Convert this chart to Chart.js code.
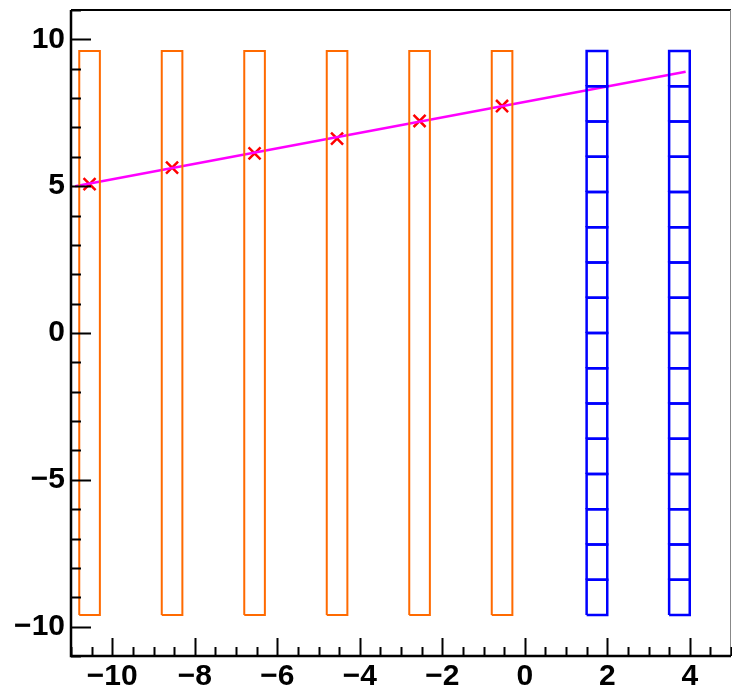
<!DOCTYPE html>
<html>
<head>
<meta charset="utf-8">
<script src="https://cdn.jsdelivr.net/npm/chart.js@4/dist/chart.umd.min.js"></script>
<style>
  html, body { margin: 0; padding: 0; background: #fff; }
  canvas { display: block; }
</style>
</head>
<body>
<canvas id="chart" width="732" height="688"></canvas>
<script>
// axis ranges and tick labels
const xRange = [-11, 5];
const yRange = [-11, 11];
const xTicks = [-10, -8, -6, -4, -2, 0, 2, 4];
const yTicks = [-10, -5, 0, 5, 10];

// orange boxes (x edges) and blue segmented boxes
const orangeLeft = [-10.8, -8.8, -6.8, -4.8, -2.8, -0.8];
const orangeRight = [-10.3, -8.3, -6.3, -4.3, -2.3, -0.3];
const blueLeft = [1.5, 3.5];
const blueRight = [2.0, 4.0];
const boxBottom = -9.6;
const boxTop = 9.6;
const blueCellEdges = [-9.6, -8.4, -7.2, -6.0, -4.8, -3.6, -2.4, -1.2, 0, 1.2, 2.4, 3.6, 4.8, 6.0, 7.2, 8.4, 9.6];

// red markers and magenta fit line
const markerX = [-10.55, -8.55, -6.55, -4.55, -2.55, -0.55];
const markerY = [5.07, 5.63, 6.12, 6.62, 7.22, 7.73];
const lineX = [-10.9, 3.9];
const lineY = [5.0, 8.9];

const ORANGE = '#ff6a00';
const BLUE = '#0000ff';

function rect(x0, x1, y0, y1) {
    return [
        { x: x0, y: y0 }, { x: x1, y: y0 }, { x: x1, y: y1 },
        { x: x0, y: y1 }, { x: x0, y: y0 }
    ];
}

function outline(points, color, width) {
    return {
        data: points,
        showLine: true,
        borderColor: color,
        borderWidth: width,
        pointRadius: 0,
        pointHoverRadius: 0,
        fill: false,
        tension: 0
    };
}

const datasets = [];

orangeLeft.forEach((x0, i) => {
    datasets.push(outline(rect(x0, orangeRight[i], boxBottom, boxTop), ORANGE, 2));
});

blueLeft.forEach((x0, i) => {
    for (let k = 0; k < blueCellEdges.length - 1; k++) {
        datasets.push(outline(rect(x0, blueRight[i], blueCellEdges[k], blueCellEdges[k + 1]), BLUE, 2.5));
    }
});

datasets.push(outline(lineX.map((x, i) => ({ x: x, y: lineY[i] })), '#ff00ff', 2.5));

datasets.push({
    data: markerX.map((x, i) => ({ x: x, y: markerY[i] })),
    showLine: false,
    pointStyle: 'crossRot',
    pointRadius: 8.5,
    pointBorderColor: '#ff0000',
    pointBorderWidth: 2.5
});

// ROOT-like frame with ticks pointing inward
const framePlugin = {
    id: 'frame',
    afterDatasetsDraw(chart) {
        const ctx = chart.ctx;
        const a = chart.chartArea;
        const xs = chart.scales.x;
        const ys = chart.scales.y;
        ctx.save();
        // top and right frame
        ctx.strokeStyle = '#000';
        ctx.lineWidth = 2;
        ctx.beginPath();
        ctx.moveTo(a.left, a.top);
        ctx.lineTo(a.right, a.top);
        ctx.stroke();
        ctx.strokeStyle = '#888';
        ctx.lineWidth = 1;
        ctx.beginPath();
        ctx.moveTo(a.right - 0.5, a.top);
        ctx.lineTo(a.right - 0.5, a.bottom);
        ctx.stroke();

        // axes
        ctx.strokeStyle = '#000';
        ctx.lineWidth = 2.5;
        ctx.beginPath();
        ctx.moveTo(a.left, a.top);
        ctx.lineTo(a.left, a.bottom);
        ctx.lineTo(a.right, a.bottom);
        ctx.stroke();

        ctx.lineWidth = 2;
        ctx.beginPath();
        for (let v = -11; v <= 5.001; v += 0.5) {
            const px = Math.round(xs.getPixelForValue(v)) + 0.5;
            const len = xTicks.includes(v) ? 18 : 9;
            ctx.moveTo(px, a.bottom);
            ctx.lineTo(px, a.bottom - len);
        }
        for (let v = -11; v <= 11; v += 1) {
            const py = Math.round(ys.getPixelForValue(v)) + 0.5;
            const len = yTicks.includes(v) ? 20 : 10;
            ctx.moveTo(a.left, py);
            ctx.lineTo(a.left + len, py);
        }
        ctx.stroke();
        ctx.restore();
    }
};

const tickFont = { family: '"Liberation Sans", Arial, sans-serif', size: 30, weight: 'bold' };
const fmt = v => (v < 0 ? '\u2212' + Math.abs(v) : String(v));

new Chart(document.getElementById('chart'), {
    type: 'scatter',
    data: { datasets: datasets },
    options: {
        responsive: false,
        animation: false,
        layout: { autoPadding: false, padding: { top: 10, right: 1, left: 0, bottom: 0 } },
        plugins: {
            legend: { display: false },
            tooltip: { enabled: false }
        },
        scales: {
            x: {
                type: 'linear',
                min: xRange[0],
                max: xRange[1],
                afterBuildTicks: s => { s.ticks = xTicks.map(v => ({ value: v })); },
                afterFit: s => { s.height = 32; s.paddingLeft = 0; s.paddingRight = 0; },
                grid: { display: false, drawTicks: false },
                border: { display: false },
                ticks: { font: tickFont, color: '#000', padding: 3, maxRotation: 0, callback: fmt }
            },
            y: {
                type: 'linear',
                min: yRange[0],
                max: yRange[1],
                afterBuildTicks: s => { s.ticks = yTicks.map(v => ({ value: v })); },
                afterFit: s => { s.width = 71; s.paddingTop = 0; s.paddingBottom = 0; },
                grid: { display: false, drawTicks: false },
                border: { display: false },
                ticks: { font: tickFont, color: '#000', padding: 6, callback: fmt }
            }
        }
    },
    plugins: [framePlugin]
});
</script>
</body>
</html>
